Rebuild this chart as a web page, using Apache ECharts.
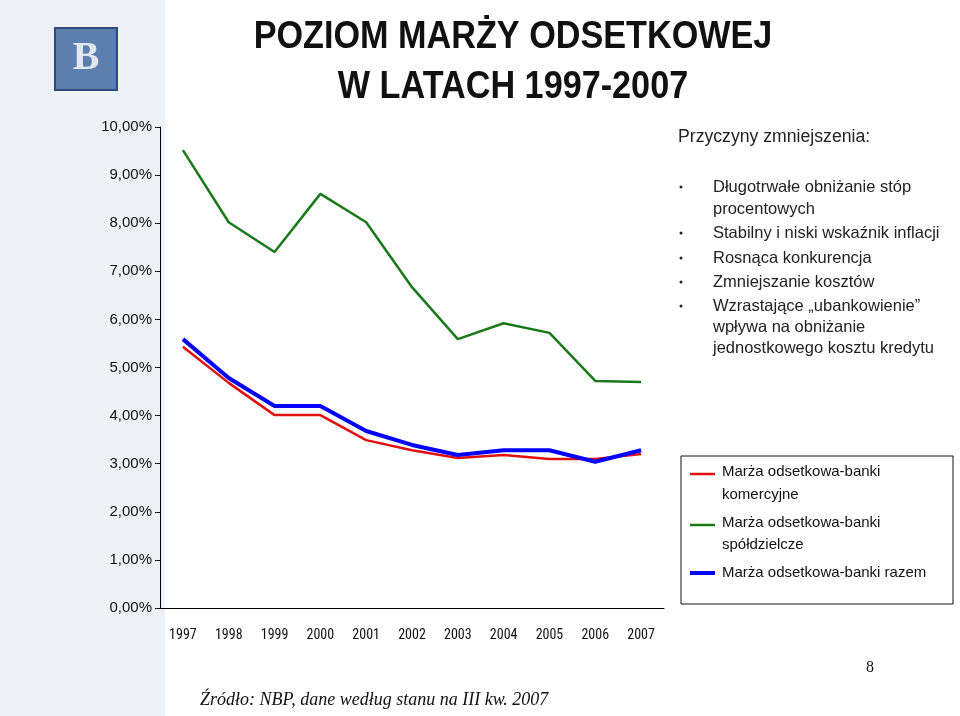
<!DOCTYPE html>
<html><head><meta charset="utf-8">
<script src="https://cdn.jsdelivr.net/npm/echarts@6/dist/echarts.min.js"></script>
<style>html,body{margin:0;padding:0;background:#fff}#c{width:960px;height:716px}</style>
</head><body><div id="c"></div>
<script>
const years=['1997','1998','1999','2000','2001','2002','2003','2004','2005','2006','2007'];
const komercyjne=[5.43,4.68,4.01,4.01,3.49,3.28,3.12,3.18,3.10,3.10,3.20];
const spoldzielcze=[9.52,8.02,7.40,8.61,8.02,6.67,5.59,5.92,5.72,4.72,4.70];
const razem=[5.59,4.78,4.20,4.20,3.68,3.39,3.18,3.28,3.28,3.04,3.28];
const bullets=['Długotrwałe obniżanie stóp','procentowych','Stabilny i niski wskaźnik inflacji','Rosnąca konkurencja','Zmniejszanie kosztów','Wzrastające „ubankowienie”','wpływa na obniżanie','jednostkowego kosztu kredytu'];
const F='"Liberation Sans",Arial,sans-serif';
const chart=echarts.init(document.getElementById('c'));
const g=[];
function T(x,y,text,font,opt){opt=opt||{};g.push({type:'text',x:x,y:y,scaleX:opt.sx||1,style:{text:text,font:font,fill:opt.fill||'#111',align:opt.align||'left',verticalAlign:'middle'}});}
g.push({type:'rect',shape:{x:0,y:0,width:165,height:716},style:{fill:'#eef1f6'},z:-10});
g.push({type:'rect',shape:{x:55,y:28,width:62,height:62},style:{fill:'#5d7fb0',stroke:'#2a4a80',lineWidth:2}});
g.push({type:'text',x:86,y:59,style:{text:'B',font:'bold 40px serif',fill:'#dfe7f3',align:'center',verticalAlign:'middle'}});
T(513,38,'POZIOM MARŻY ODSETKOWEJ','bold 38px '+F,{align:'center',sx:0.9});
T(513,88,'W LATACH 1997-2007','bold 38px '+F,{align:'center',sx:0.9});
T(678,137,'Przyczyny zmniejszenia:','18px '+F,{fill:'#222',sx:0.98});
const by=[187,209,233,258,282,306,327,348];
bullets.forEach((t,i)=>{
  T(713,by[i],t,'16.5px '+F,{fill:'#222'});
  if(i===0||i===2||i===3||i===4||i===5) g.push({type:'circle',shape:{cx:681,cy:by[i],r:1.5},style:{fill:'#222'}});
});
g.push({type:'rect',shape:{x:681,y:456,width:272,height:148},style:{fill:'#fff',stroke:'#111',lineWidth:1}});
const leg=[['Marża odsetkowa-banki','komercyjne','#e01010',472,495,474],['Marża odsetkowa-banki','spółdzielcze','#1a7a1a',523,545,525],['Marża odsetkowa-banki razem','','#0000ff',573,0,573]];
leg.forEach(l=>{
  g.push({type:'line',shape:{x1:690,y1:l[5],x2:715,y2:l[5]},style:{stroke:l[2],lineWidth:l[2]==='#0000ff'?4:2.5}});
  T(722,l[3],l[0],'15px '+F,{sx:1.0});
  if(l[1]) T(722,l[4],l[1],'15px '+F,{sx:1.0});
});
g.push({type:'text',x:200,y:700,style:{text:'Źródło: NBP, dane według stanu na III kw. 2007',font:'italic 18px "Liberation Serif",serif',fill:'#111',verticalAlign:'middle'}});
g.push({type:'text',x:870,y:668,style:{text:'8',font:'16px "Liberation Serif",serif',fill:'#111',align:'center',verticalAlign:'middle'}});
chart.setOption({
  animation:false,
  graphic:g,
  grid:{left:160,right:296,top:127,bottom:108},
  xAxis:{type:'category',data:years,boundaryGap:true,
    axisLine:{lineStyle:{color:'#000'}},axisTick:{show:false},
    axisLabel:{color:'#111',fontSize:14,fontFamily:'Roboto Condensed, Liberation Sans',margin:20}},
  yAxis:{type:'value',min:0,max:10,interval:1,
    axisLine:{show:true,lineStyle:{color:'#000'}},axisTick:{show:true,length:5,lineStyle:{color:'#000'}},
    splitLine:{show:false},
    axisLabel:{color:'#111',fontSize:15,fontFamily:F,formatter:v=>v.toFixed(2).replace('.',',')+'%'}},
  series:[
    {name:'Marża odsetkowa-banki komercyjne',type:'line',data:komercyjne,symbol:'none',lineStyle:{color:'#e01010',width:2.5}},
    {name:'Marża odsetkowa-banki spółdzielcze',type:'line',data:spoldzielcze,symbol:'none',lineStyle:{color:'#1a7a1a',width:2.5}},
    {name:'Marża odsetkowa-banki razem',type:'line',data:razem,symbol:'none',lineStyle:{color:'#0000ff',width:4}}
  ]
});
</script></body></html>
